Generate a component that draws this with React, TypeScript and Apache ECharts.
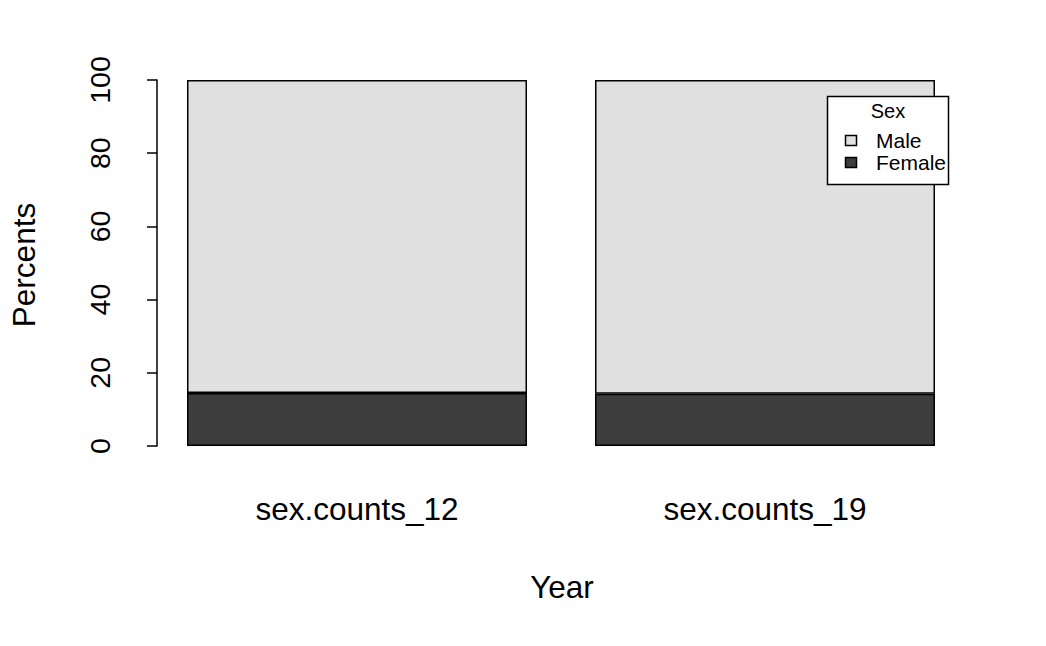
import React, { useEffect, useRef } from "react";
import * as echarts from "echarts";

const categories = ["sex.counts_12", "sex.counts_19"];
const femaleValues = [14.5, 14.3];
const maleValues = [85.5, 85.7];
const seriesNames = ["Male", "Female"];
const seriesColors = ["#E0E0E0", "#3D3D3D"];
const yTicks = [0, 20, 40, 60, 80, 100];
const legendTitle = "Sex";
const xTitle = "Year";
const yTitle = "Percents";

const FONT = "'Liberation Sans', Arial, Helvetica, sans-serif";

export default function App() {
  const ref = useRef<HTMLDivElement>(null);
  useEffect(() => {
    if (!ref.current) return;
    const chart = echarts.init(ref.current, undefined, { renderer: "svg" });
    const legendItems = seriesNames.flatMap((name, i) => [
      {
        type: "rect",
        z: 12,
        shape: { x: 845.5, y: 135.5 + i * 22, width: 11, height: 10 },
        style: { fill: seriesColors[i], stroke: "#000", lineWidth: 1.5 },
      },
      {
        type: "text",
        z: 12,
        x: 876,
        y: 140.5 + i * 22,
        style: {
          text: name,
          font: `21px ${FONT}`,
          lineHeight: 18,
          fill: "#000",
          textAlign: "left",
          textVerticalAlign: "middle",
        },
      },
    ]);
    chart.setOption({
      animation: false,
      backgroundColor: "#fff",
      grid: { left: 153, right: 77, top: 80, bottom: 200, containLabel: false },
      xAxis: {
        type: "category",
        data: categories,
        axisLine: { show: false },
        axisTick: { show: false },
        axisLabel: { fontSize: 31.5, color: "#000", fontFamily: FONT, margin: 47 },
        splitLine: { show: false },
      },
      yAxis: {
        type: "value",
        min: 0,
        max: 100,
        interval: 20,
        offset: -4,
        axisLine: { show: true, lineStyle: { color: "#000", width: 1.5 } },
        axisTick: { show: true, length: 10, lineStyle: { color: "#000", width: 1.5 } },
        axisLabel: {
          rotate: 90,
          fontSize: 28.5,
          color: "#000",
          fontFamily: FONT,
          margin: 43,
          formatter: (v: number) => (yTicks.includes(v) ? String(v) : ""),
        },
        splitLine: { show: false },
      },
      series: [
        {
          name: seriesNames[1],
          type: "bar",
          stack: "s",
          barWidth: 340,
          data: femaleValues,
          itemStyle: { color: seriesColors[1], borderColor: "#000", borderWidth: 1.5 },
        },
        {
          name: seriesNames[0],
          type: "bar",
          stack: "s",
          barWidth: 340,
          data: maleValues,
          itemStyle: { color: seriesColors[0], borderColor: "#000", borderWidth: 1.5 },
        },
      ],
      graphic: [
        {
          type: "text",
          x: 562,
          y: 587,
          style: {
            text: xTitle,
            font: `31.5px ${FONT}`,
            fill: "#000",
            textAlign: "center",
            textVerticalAlign: "middle",
          },
        },
        {
          type: "text",
          x: 24,
          y: 265,
          rotation: Math.PI / 2,
          style: {
            text: yTitle,
            font: `31.5px ${FONT}`,
            fill: "#000",
            textAlign: "center",
            textVerticalAlign: "middle",
          },
        },
        {
          type: "rect",
          z: 10,
          shape: { x: 827.5, y: 96.5, width: 121, height: 88 },
          style: { fill: "#fff", stroke: "#000", lineWidth: 1.5 },
        },
        {
          type: "text",
          z: 12,
          x: 888,
          y: 111,
          style: {
            text: legendTitle,
            font: `20px ${FONT}`,
            lineHeight: 18,
            fill: "#000",
            textAlign: "center",
            textVerticalAlign: "middle",
          },
        },
        ...legendItems,
      ],
    });
    return () => chart.dispose();
  }, []);
  return <div ref={ref} style={{ width: 1046, height: 646, margin: -8 }} />;
}
